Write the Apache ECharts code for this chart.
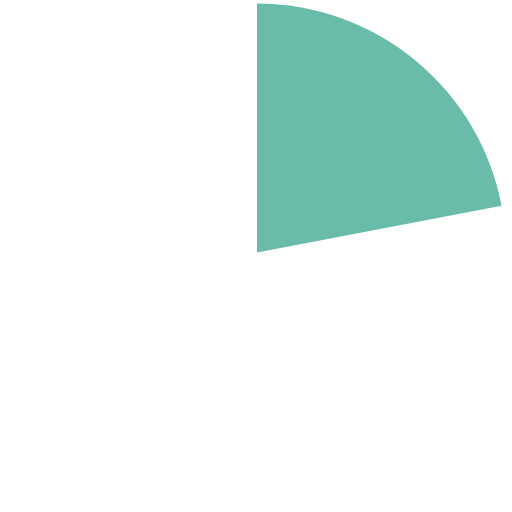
<!DOCTYPE html>
<html><head><meta charset="utf-8">
<script src="https://cdn.jsdelivr.net/npm/echarts@6/dist/echarts.min.js"></script>
<style>html,body{margin:0;padding:0;background:#fff}#c{width:512px;height:512px}</style>
</head><body><div id="c"></div>
<script>
const categories = ['A', 'Rest'];
const values = [22, 78];
const colors = ['#69bbaa', 'rgba(0,0,0,0)'];
const chart = echarts.init(document.getElementById('c'), null, {renderer: 'canvas'});
chart.setOption({
  animation: false,
  series: [{
    type: 'pie',
    center: [257, 252.5],
    radius: [0, 249],
    startAngle: 90,
    clockwise: true,
    label: {show: false},
    labelLine: {show: false},
    silent: true,
    itemStyle: {borderWidth: 0},
    data: categories.map((n, i) => ({name: n, value: values[i], itemStyle: {color: colors[i]}}))
  }]
});
</script></body></html>
